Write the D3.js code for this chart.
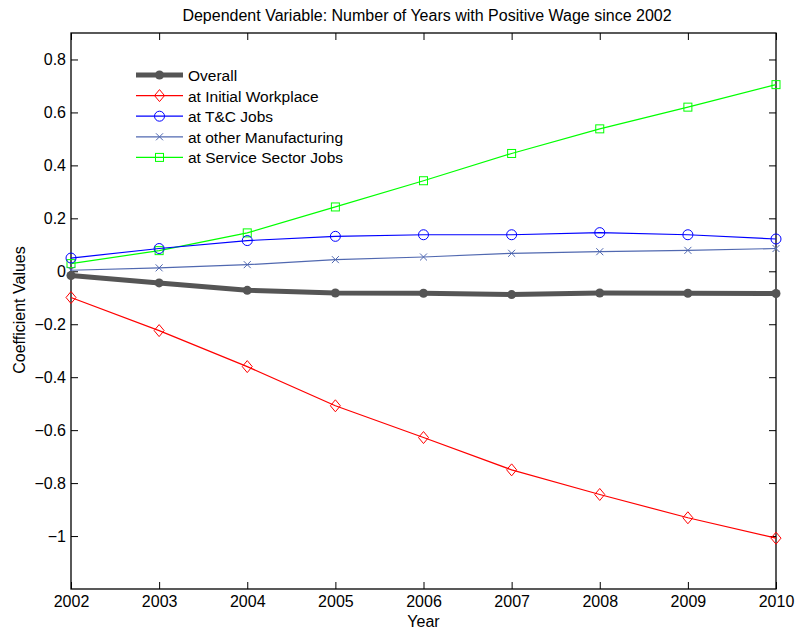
<!DOCTYPE html>
<html>
<head>
<meta charset="utf-8">
<script src="https://cdn.jsdelivr.net/npm/d3@7"></script>
<style>
  html, body { margin: 0; padding: 0; background: #fff; }
  svg { display: block; font-family: "Liberation Sans", Arial, Helvetica, sans-serif; }
</style>
</head>
<body>
<svg id="chart" width="795" height="634"></svg>
<script>
// Regression coefficients by year
const years = [2002, 2003, 2004, 2005, 2006, 2007, 2008, 2009, 2010];
const overall      = [-0.016, -0.044, -0.072, -0.082, -0.083, -0.088, -0.082, -0.083, -0.084];
const initialWork  = [-0.099, -0.224, -0.360, -0.508, -0.628, -0.750, -0.843, -0.931, -1.008];
const tcJobs       = [0.050, 0.086, 0.116, 0.132, 0.138, 0.138, 0.146, 0.138, 0.122];
const otherManuf   = [0.004, 0.013, 0.025, 0.044, 0.054, 0.068, 0.074, 0.079, 0.086];
const serviceJobs  = [0.029, 0.078, 0.145, 0.243, 0.342, 0.445, 0.538, 0.620, 0.705];
const yTicks = [-1, -0.8, -0.6, -0.4, -0.2, 0, 0.2, 0.4, 0.6, 0.8];
const seriesNames = ["Overall", "at Initial Workplace", "at T&C Jobs", "at other Manufacturing", "at Service Sector Jobs"];

const series = [
  { name: seriesNames[0], values: overall,     color: "#555555", width: 5,   marker: "dot" },
  { name: seriesNames[1], values: initialWork, color: "#ff0000", width: 1.2, marker: "diamond" },
  { name: seriesNames[2], values: tcJobs,      color: "#0000ff", width: 1.2, marker: "circle" },
  { name: seriesNames[3], values: otherManuf,  color: "#5068b0", width: 1.2, marker: "cross" },
  { name: seriesNames[4], values: serviceJobs, color: "#00ff00", width: 1.2, marker: "square" }
];

const svg = d3.select("#chart");
const L = 71, R = 776, T = 33, B = 589;

const x = d3.scaleLinear().domain([2002, 2010]).range([L, R]);
const y = d3.scaleLinear().domain([-1.2, 0.9]).range([B, T]);

const fmt = v => (v === 0 ? "0" : (v < 0 ? "\u2212" : "") + String(Math.abs(v)));

// Axes with inward ticks on all four sides
const tick = 7;
const axisStyle = g => {
  g.select(".domain").remove();
  g.selectAll(".tick line").attr("stroke", "#000").attr("stroke-width", 1);
  g.selectAll(".tick text").attr("fill", "#000").style("font-size", "16px");
};

svg.append("g").attr("transform", `translate(0,${B})`)
  .call(d3.axisBottom(x).tickValues(years).tickFormat(d3.format("d")).tickSizeInner(-tick).tickPadding(7))
  .call(axisStyle);
svg.append("g").attr("transform", `translate(0,${T})`)
  .call(d3.axisTop(x).tickValues(years).tickFormat("").tickSizeInner(-tick))
  .call(axisStyle);
svg.append("g").attr("transform", `translate(${L},0)`)
  .call(d3.axisLeft(y).tickValues(yTicks).tickFormat(fmt).tickSizeInner(-tick).tickPadding(5))
  .call(axisStyle);
svg.append("g").attr("transform", `translate(${R},0)`)
  .call(d3.axisRight(y).tickValues(yTicks).tickFormat("").tickSizeInner(-tick))
  .call(axisStyle);

svg.append("rect").attr("x", L).attr("y", T).attr("width", R - L).attr("height", B - T)
  .attr("fill", "none").attr("stroke", "#000").attr("stroke-width", 1.3);

// Markers
function drawMarker(g, type, color, cx, cy) {
  if (type === "dot") {
    g.append("circle").attr("cx", cx).attr("cy", cy).attr("r", 4.5).attr("fill", color);
  } else if (type === "diamond") {
    const sy = 6, sx = 5;
    g.append("path").attr("d", `M${cx},${cy - sy}L${cx + sx},${cy}L${cx},${cy + sy}L${cx - sx},${cy}Z`)
      .attr("fill", "none").attr("stroke", color).attr("stroke-width", 1);
  } else if (type === "circle") {
    g.append("circle").attr("cx", cx).attr("cy", cy).attr("r", 5)
      .attr("fill", "none").attr("stroke", color).attr("stroke-width", 1);
  } else if (type === "square") {
    g.append("rect").attr("x", cx - 4).attr("y", cy - 4).attr("width", 8).attr("height", 8)
      .attr("fill", "none").attr("stroke", color).attr("stroke-width", 1);
  } else if (type === "cross") {
    const s = 3.5;
    g.append("path").attr("d", `M${cx - s},${cy - s}L${cx + s},${cy + s}M${cx - s},${cy + s}L${cx + s},${cy - s}`)
      .attr("stroke", color).attr("stroke-width", 1);
  }
}

const line = d3.line().x((d, i) => x(years[i])).y(d => y(d));

// Draw in reverse so "Overall" sits on top
const plot = svg.append("g");
series.slice().reverse().forEach(s => {
  const g = plot.append("g");
  g.append("path").datum(s.values).attr("d", line)
    .attr("fill", "none").attr("stroke", s.color).attr("stroke-width", s.width).attr("stroke-linejoin", "round");
  s.values.forEach((v, i) => drawMarker(g, s.marker, s.color, x(years[i]), y(v)));
});

// Legend
const legend = svg.append("g");
const lgX0 = 136, lgX1 = 183, lgY0 = 75, lgDy = 20.6;
series.forEach((s, i) => {
  const yy = lgY0 + i * lgDy;
  legend.append("line").attr("x1", lgX0).attr("x2", lgX1).attr("y1", yy).attr("y2", yy)
    .attr("stroke", s.color).attr("stroke-width", s.width);
  drawMarker(legend, s.marker, s.color, (lgX0 + lgX1) / 2, yy);
  legend.append("text").attr("x", 188).attr("y", yy + 6).text(s.name)
    .style("font-size", "15.5px").attr("fill", "#000");
});

// Titles
svg.append("text").attr("x", 427).attr("y", 21).attr("text-anchor", "middle")
  .style("font-size", "16px").text("Dependent Variable: Number of Years with Positive Wage since 2002");
svg.append("text").attr("x", (L + R) / 2).attr("y", 627).attr("text-anchor", "middle")
  .style("font-size", "16px").text("Year");
svg.append("text").attr("transform", `translate(25,${(T + B) / 2 - 1}) rotate(-90)`).attr("text-anchor", "middle")
  .style("font-size", "16px").text("Coefficient Values");
</script>
</body>
</html>
